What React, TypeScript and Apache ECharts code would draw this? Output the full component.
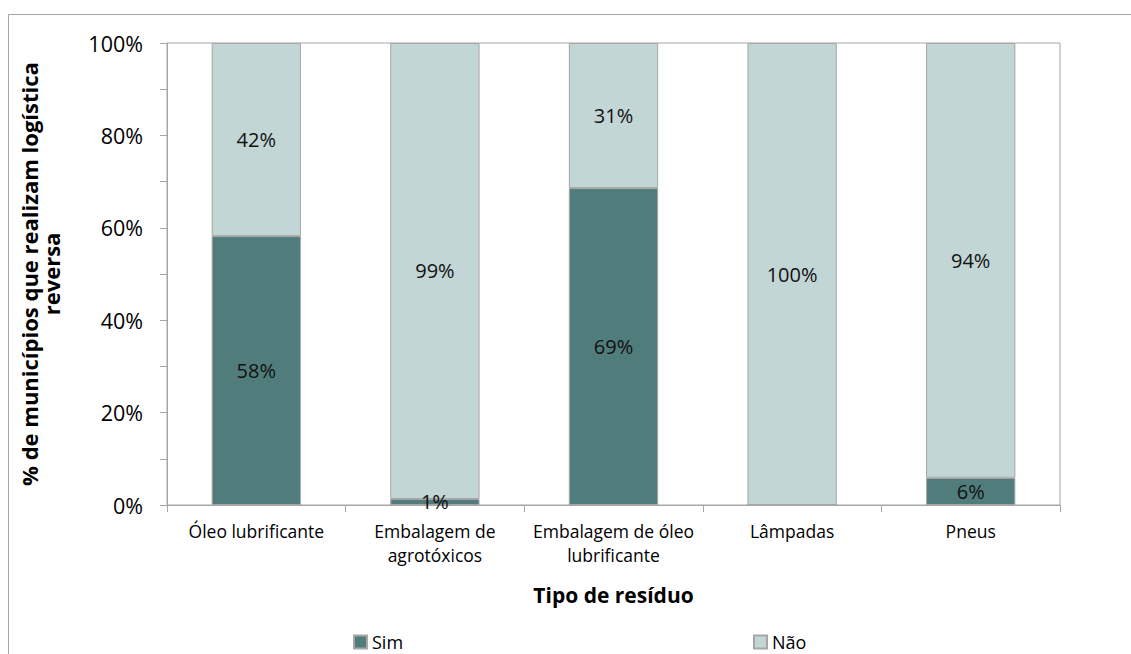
import React, { useEffect, useRef } from "react";
import * as echarts from "echarts";

const categories = [
  "Óleo lubrificante",
  "Embalagem de\nagrotóxicos",
  "Embalagem de óleo\nlubrificante",
  "Lâmpadas",
  "Pneus",
];
const simValues = [58.2, 1.3, 68.6, 0, 5.9];
const naoValues = [41.8, 98.7, 31.4, 100, 94.1];
const yTicks = [0, 10, 20, 30, 40, 50, 60, 70, 80, 90, 100];

const FONT = "'Open Sans', Lato, sans-serif";
const DARK = "#507d7b";
const LIGHT = "#c2d6d5";
const GRAY = "#a6a6a6";

export default function App() {
  const ref = useRef<HTMLDivElement>(null);
  useEffect(() => {
    if (!ref.current) return;
    const chart = echarts.init(ref.current, null, { renderer: "svg" });
    const labelFmt = (p: any) => (p.value > 0 ? Math.round(p.value) + "%" : "");
    const legendText = { fontFamily: FONT, fontSize: 18, color: "#000", lineHeight: 20 };
    chart.setOption({
      animation: false,
      textStyle: { fontFamily: FONT },
      graphic: [
        {
          type: "rect",
          shape: { x: 8.5, y: 14.5, width: 1140, height: 660 },
          style: { fill: "none", stroke: GRAY, lineWidth: 1 },
          silent: true,
          z: -10,
        },
      ],
      grid: {
        left: 167,
        top: 43,
        right: 71,
        bottom: 149,
        show: true,
        borderColor: GRAY,
        borderWidth: 1,
        containLabel: false,
      },
      legend: [
        {
          data: ["Sim"],
          left: 353,
          top: 632,
          icon: "rect",
          itemWidth: 13,
          itemHeight: 13,
          itemGap: 6,
          textStyle: legendText,
          padding: 0,
        },
        {
          data: ["Não"],
          left: 753,
          top: 632,
          icon: "rect",
          itemWidth: 13,
          itemHeight: 13,
          itemGap: 6,
          textStyle: legendText,
          padding: 0,
        },
      ],
      xAxis: {
        type: "category",
        data: categories,
        name: "Tipo de resíduo",
        nameLocation: "middle",
        nameGap: 79,
        nameTextStyle: { fontFamily: FONT, fontSize: 21, fontWeight: "bold", color: "#000" },
        axisLine: { show: true, lineStyle: { color: GRAY, width: 1 } },
        axisTick: { show: true, length: 7, alignWithLabel: false, lineStyle: { color: GRAY } },
        axisLabel: {
          fontFamily: FONT,
          fontSize: 17.5,
          color: "#000",
          margin: 14,
          lineHeight: 24,
          interval: 0,
        },
        splitLine: { show: false },
      },
      yAxis: {
        type: "value",
        min: 0,
        max: 100,
        interval: 10,
        name: "% de municípios que realizam logística\nreversa",
        nameLocation: "middle",
        nameRotate: 90,
        nameGap: 105,
        nameTextStyle: {
          fontFamily: FONT,
          fontSize: 22,
          fontWeight: "bold",
          color: "#000",
          lineHeight: 22,
          align: "center",
        },
        axisLine: { show: true, lineStyle: { color: GRAY, width: 1 } },
        axisTick: { show: true, length: 7, lineStyle: { color: GRAY } },
        axisLabel: {
          fontFamily: FONT,
          fontSize: 21.5,
          color: "#000",
          margin: 24,
          formatter: (v: number) => (yTicks.includes(v) && v % 20 === 0 ? v + "%" : ""),
        },
        splitLine: { show: false },
      },
      series: [
        {
          name: "Sim",
          type: "bar",
          stack: "total",
          barWidth: "50%",
          data: simValues,
          itemStyle: { color: DARK, borderColor: GRAY, borderWidth: 1 },
          label: {
            show: true,
            position: "inside",
            formatter: labelFmt,
            fontFamily: FONT,
            fontSize: 20,
            color: "#111",
          },
        },
        {
          name: "Não",
          type: "bar",
          stack: "total",
          barWidth: "50%",
          data: naoValues,
          itemStyle: { color: LIGHT, borderColor: GRAY, borderWidth: 1 },
          label: {
            show: true,
            position: "inside",
            formatter: labelFmt,
            fontFamily: FONT,
            fontSize: 20,
            color: "#111",
          },
        },
      ],
    });
    return () => chart.dispose();
  }, []);
  return (
    <div
      ref={ref}
      style={{ position: "fixed", left: 0, top: 0, width: 1131, height: 654, background: "#fff" }}
    />
  );
}
